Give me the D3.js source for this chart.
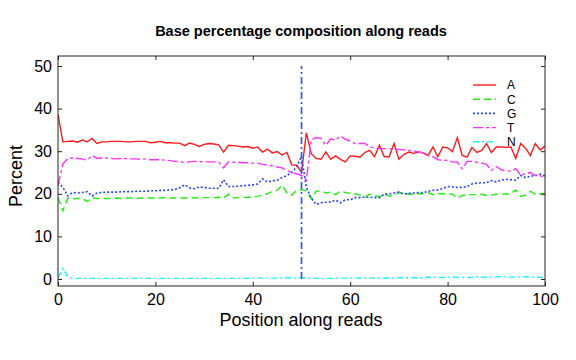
<!DOCTYPE html>
<html><head><meta charset="utf-8">
<script src="https://cdn.jsdelivr.net/npm/d3@7"></script>
<style>html,body{margin:0;padding:0;background:#fff;}svg{display:block;font-family:"Liberation Sans",Arial,Helvetica,sans-serif;}</style>
</head><body>
<script>
const positions = d3.range(0, 101);
const seriesNames = ["A", "C", "G", "T", "N"];
const valuesA = [38.6,32.2,32.3,32.4,32.1,32.6,32.2,33.0,31.8,32.2,32.2,32.3,32.3,32.3,32.2,32.2,32.3,32.3,32.3,32.0,32.1,32.3,32.0,32.0,31.9,31.9,31.3,31.9,31.6,31.1,31.6,31.8,31.7,31.5,29.8,31.4,31.3,31.2,31.0,31.1,30.7,31.0,29.8,30.5,29.6,29.9,29.1,29.7,26.8,26.7,25.1,34.3,29.4,28.3,28.1,29.8,28.1,28.9,28.1,27.5,28.9,28.8,28.6,29.7,30.2,28.7,31.4,28.7,28.7,31.8,28.1,29.2,29.8,29.5,29.8,29.6,29.0,31.0,28.7,31.0,30.8,29.9,33.2,29.0,28.6,30.9,29.7,30.2,31.8,29.7,31.0,31.0,30.9,31.0,28.3,31.8,30.7,29.0,31.8,30.3,31.2];
const valuesC = [19.1,16.0,19.0,18.8,18.9,18.9,18.2,19.1,18.9,18.9,18.9,18.9,19.0,18.9,19.0,19.0,18.9,19.0,19.0,19.0,19.0,19.0,19.1,19.0,19.0,19.1,19.0,19.1,19.0,19.1,19.1,19.1,19.1,19.2,19.0,19.9,19.0,19.1,19.1,19.2,19.2,19.4,19.7,20.0,20.6,20.8,22.0,20.2,19.7,20.8,21.0,20.7,18.8,20.6,20.7,20.2,20.4,19.8,20.6,20.3,20.1,20.0,19.7,19.3,19.9,19.6,19.3,19.9,19.5,19.6,20.3,20.2,19.9,19.9,20.0,20.0,20.3,19.8,20.0,20.0,20.0,19.9,19.0,19.6,19.8,19.8,19.8,19.9,19.6,19.7,19.9,20.0,19.9,20.1,20.9,19.4,19.7,20.6,19.9,20.0,20.1];
const valuesG = [22.7,21.5,19.5,20.3,20.2,20.3,20.5,19.5,20.2,20.3,20.4,20.4,20.4,20.5,20.5,20.5,20.6,20.6,20.6,20.7,20.7,20.8,20.8,20.9,21.0,21.4,22.1,21.4,21.2,21.6,21.5,21.3,21.3,21.3,23.3,21.7,21.7,21.8,21.9,22.0,22.1,22.3,23.5,22.8,23.0,23.2,23.8,24.3,25.0,26.3,28.8,21.5,19.0,17.5,17.9,18.0,18.1,18.5,17.9,18.6,18.6,19.1,19.1,19.2,19.2,19.1,19.1,19.9,20.0,20.2,20.4,19.9,20.1,20.2,20.3,20.3,20.6,20.8,20.9,21.2,21.7,21.6,21.5,21.5,21.7,22.3,22.5,22.6,22.6,23.1,22.8,23.2,23.4,23.3,23.2,24.3,23.8,24.1,24.3,24.6,24.2];
const valuesT = [21.9,27.0,28.3,28.4,28.3,28.2,27.9,29.0,28.3,28.4,28.4,28.3,28.2,28.3,28.3,28.2,28.2,28.1,28.2,28.0,28.0,28.0,27.9,27.8,27.6,27.6,27.3,27.5,27.6,27.6,27.5,27.5,27.5,27.4,26.1,27.5,27.4,27.4,27.3,27.3,27.2,27.2,26.9,26.7,26.6,26.3,26.1,25.5,24.9,24.7,24.3,23.2,32.6,33.2,33.0,31.4,32.9,32.6,33.6,32.8,32.4,31.8,31.8,31.8,31.0,30.8,30.6,30.6,30.6,30.6,30.4,30.3,30.2,30.0,29.8,29.6,29.0,28.7,28.0,27.9,27.8,27.5,27.4,25.9,27.6,27.6,27.4,27.2,26.9,25.5,26.4,25.6,25.4,25.3,25.9,24.3,24.8,25.0,24.3,24.2,23.9];
const valuesN = [0.3,2.5,0.5,0.15,0.15,0.15,0.15,0.15,0.15,0.15,0.15,0.15,0.15,0.15,0.15,0.15,0.15,0.15,0.15,0.15,0.15,0.15,0.15,0.15,0.15,0.15,0.15,0.15,0.15,0.15,0.15,0.15,0.15,0.15,0.15,0.15,0.15,0.15,0.15,0.15,0.2,0.2,0.2,0.2,0.2,0.2,0.25,0.3,0.3,0.2,0.3,0.2,0.15,0.15,0.15,0.15,0.15,0.15,0.2,0.2,0.2,0.2,0.25,0.25,0.2,0.2,0.25,0.25,0.25,0.25,0.3,0.3,0.3,0.3,0.3,0.3,0.4,0.5,0.35,0.35,0.4,0.4,0.4,0.35,0.35,0.4,0.55,0.4,0.4,0.45,0.5,0.6,0.5,0.45,0.45,0.5,0.55,0.45,0.4,0.4,0.35];
const xTicks = [0, 20, 40, 60, 80, 100];
const yTicks = [0, 10, 20, 30, 40, 50];
const markerPosition = 50;
const markerRange = [0, 50];
const titleText = "Base percentage composition along reads";
const xLabelText = "Position along reads";
const yLabelText = "Percent";

const W = 576, H = 360;
const mLeft = 58, mRight = 545, mTop = 56, mBottom = 286;
const x = d3.scaleLinear().domain([0, 100]).range([mLeft, mRight]);
const y = d3.scaleLinear().domain([0, 50]).range([279, 66]);

const styles = {
  A: {color: "#ff1a1a", dash: null, w: 1.4},
  C: {color: "#22ee11", dash: "7,4", w: 1.4},
  G: {color: "#2244ff", dash: "2,2", w: 1.6},
  T: {color: "#ff33ff", dash: "10,3,3,3", w: 1.4},
  N: {color: "#11ffff", dash: "6,3,2,3", w: 1.4}
};
const seriesValues = {A: valuesA, C: valuesC, G: valuesG, T: valuesT, N: valuesN};

const svg = d3.select("body").append("svg").attr("width", W).attr("height", H);
svg.append("rect").attr("width", W).attr("height", H).attr("fill", "#fff");

svg.append("text").attr("x", 301).attr("y", 36).attr("text-anchor", "middle")
  .attr("font-size", 14.5).attr("font-weight", "bold").text(titleText);

svg.append("clipPath").attr("id", "clip").append("rect")
  .attr("x", mLeft).attr("y", mTop).attr("width", mRight - mLeft).attr("height", mBottom - mTop);

const plot = svg.append("g").attr("clip-path", "url(#clip)");
const line = d3.line().x((d, i) => x(positions[i])).y(d => y(d));

seriesNames.forEach(name => {
  plot.append("path").datum(seriesValues[name])
    .attr("fill", "none").attr("stroke", styles[name].color)
    .attr("stroke-width", styles[name].w)
    .attr("stroke-dasharray", styles[name].dash)
    .attr("d", line);
});

plot.append("line")
  .attr("x1", x(markerPosition)).attr("x2", x(markerPosition))
  .attr("y1", y(markerRange[0])).attr("y2", y(markerRange[1]))
  .attr("stroke", "#3355ff").attr("stroke-width", 1.7).attr("stroke-dasharray", "7,3,2,3");

const tickLen = 4;
const gx = svg.append("g").attr("transform", `translate(0,${mBottom})`)
  .call(d3.axisBottom(x).tickValues(xTicks).tickSize(-tickLen).tickPadding(8).tickFormat(d3.format("d")));
const gy = svg.append("g").attr("transform", `translate(${mLeft},0)`)
  .call(d3.axisLeft(y).tickValues(yTicks).tickSize(-tickLen).tickPadding(6).tickFormat(d3.format("d")));
const gxt = svg.append("g").attr("transform", `translate(0,${mTop})`)
  .call(d3.axisTop(x).tickValues(xTicks).tickSize(-tickLen).tickFormat(""));
const gyr = svg.append("g").attr("transform", `translate(${mRight},0)`)
  .call(d3.axisRight(y).tickValues(yTicks).tickSize(-tickLen).tickFormat(""));
[gx, gy, gxt, gyr].forEach(g => {
  g.select(".domain").remove();
  g.selectAll(".tick line").attr("stroke", "#222");
  g.selectAll("text").attr("font-size", 16).attr("fill", "#000")
    .attr("font-family", "'Liberation Sans',Arial,sans-serif");
});
gx.selectAll(".tick text").attr("dy", "0.71em");
svg.append("rect").attr("x", mLeft).attr("y", mTop).attr("width", mRight - mLeft).attr("height", mBottom - mTop)
  .attr("fill", "none").attr("stroke", "#222").attr("stroke-width", 1);

svg.append("text").attr("x", 301).attr("y", 326).attr("text-anchor", "middle")
  .attr("font-size", 18).text(xLabelText);
svg.append("text").attr("transform", "translate(22,176) rotate(-90)").attr("text-anchor", "middle")
  .attr("font-size", 18).text(yLabelText);

const legendTop = 85, legendStep = 14.2;
const lg = svg.append("g");
seriesNames.forEach((name, i) => {
  const yy = legendTop + i * legendStep;
  lg.append("line").attr("x1", 473).attr("x2", 496).attr("y1", yy).attr("y2", yy)
    .attr("stroke", styles[name].color).attr("stroke-width", styles[name].w)
    .attr("stroke-dasharray", styles[name].dash);
  lg.append("text").attr("x", 507).attr("y", yy + 4.3).attr("font-size", 12).text(name);
});
</script>
</body></html>
